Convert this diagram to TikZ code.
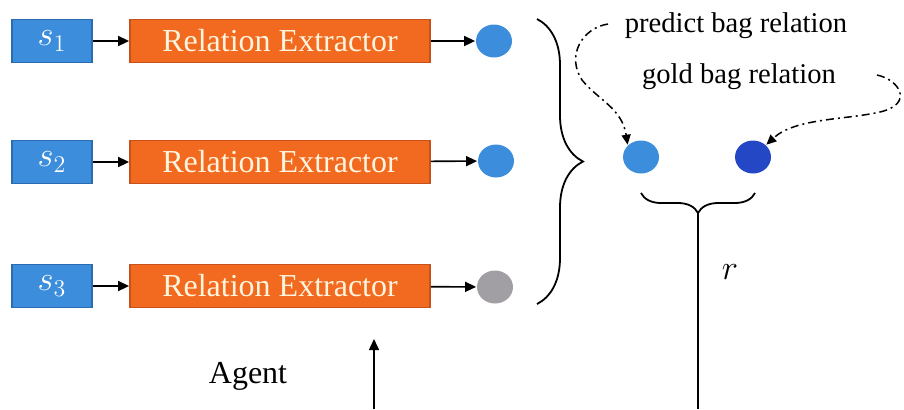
\documentclass[tikz,border=0pt]{standalone}
\usepackage{fontspec}
\setmainfont{Liberation Serif}
\usetikzlibrary{arrows.meta,decorations.pathreplacing,shapes.geometric}
\definecolor{sblue}{HTML}{3C8DDC}
\definecolor{sborder}{HTML}{2B6CB0}
\definecolor{exorange}{HTML}{F26A1F}
\definecolor{exborder}{HTML}{C4521A}
\definecolor{extext}{HTML}{FFF4DE}
\definecolor{dotlight}{HTML}{3C8EDC}
\definecolor{dotdark}{HTML}{2447C6}
\definecolor{dotgray}{HTML}{A19EA4}

\begin{document}
\begin{tikzpicture}[x=0.5pt,y=-0.5pt, line width=0.9pt,
  sentbox/.style={draw=sborder, fill=sblue, minimum width=40pt, minimum height=21.5pt,
    inner sep=0pt, text=white, font=\fontsize{18}{20}\selectfont},
  extbox/.style={draw=exborder, fill=exorange, minimum width=150pt, minimum height=21.5pt,
    inner sep=0pt, text=extext, font=\fontsize{16}{19}\selectfont},
  relnode/.style={ellipse, minimum width=18pt, minimum height=16.5pt, inner sep=0pt},
  flow/.style={-{Triangle[length=5.5pt,width=5pt]}, line width=0.8pt},
  hint/.style={-{Triangle[length=5pt,width=4.5pt]}, line width=0.75pt,
    dash pattern=on 4pt off 2pt on 1pt off 2pt},
  bracedeco/.style={decorate, decoration={brace, amplitude=#1}, line width=0.9pt},
  caption/.style={font=\fontsize{14.3}{17}\selectfont},
]
\useasboundingbox (0,0) rectangle (904,409);

% three sentences, each through an extractor
\node[sentbox] (s1) at (52,41)  {$s_1$};
\node[sentbox] (s2) at (52,162) {$s_2$};
\node[sentbox] (s3) at (52,286) {$s_3$};
\node[extbox] (e1) at (280,41)  {Relation Extractor};
\node[extbox] (e2) at (280,162) {Relation Extractor};
\node[extbox] (e3) at (280,286) {Relation Extractor};
\node[relnode, fill=dotlight] (o1) at (494,41)  {};
\node[relnode, fill=dotlight] (o2) at (496,161) {};
\node[relnode, fill=dotgray]  (o3) at (495,287) {};
\foreach \i in {1,2,3} {
  \draw[flow] (s\i) -- (e\i);
  \draw[flow] (e\i) -- (o\i);
}

% grouping brace over the sentence outputs
\coordinate (bt) at (537,19);
\coordinate (bb) at (537,304);
\draw[bracedeco=23pt] (bt) -- (bb);

% bag-level prediction and gold label
\node[relnode, fill=dotlight] (pb) at (641,157) {};
\node[relnode, fill=dotdark]  (gb) at (753,157) {};
\node[caption] (pred) at (736,26) {predict bag relation};
\node[caption] (gold) at (739,77) {gold bag relation};

\coordinate (ps) at (608,24);
\draw[hint] (ps) .. controls (582,28) and (566,56) .. (582,80)
  .. controls (598,100) and (622,108) .. (pb.north west);
\coordinate (gs) at (877,75);
\draw[hint] (gs) .. controls (900,80) and (914,104) .. (880,112)
  .. controls (845,120) and (795,118) .. (gb.north east);

% reward
\coordinate (rl) at (641,193);
\coordinate (rr) at (755,193);
\draw[bracedeco=10pt] (rr) -- (rl);
\coordinate (rtip) at (698,213);
\coordinate (rbot) at (698,409);
\draw (rtip) -- (rbot);
\node[font=\fontsize{18}{20}\selectfont] (rlab) at (730,272) {$r$};

% agent
\node[font=\fontsize{16}{19}\selectfont] (agent) at (248,376) {Agent};
\coordinate (ab) at (374,409);
\coordinate (at) at (374,339);
\draw[flow] (ab) -- (at);
\end{tikzpicture}
\end{document}
